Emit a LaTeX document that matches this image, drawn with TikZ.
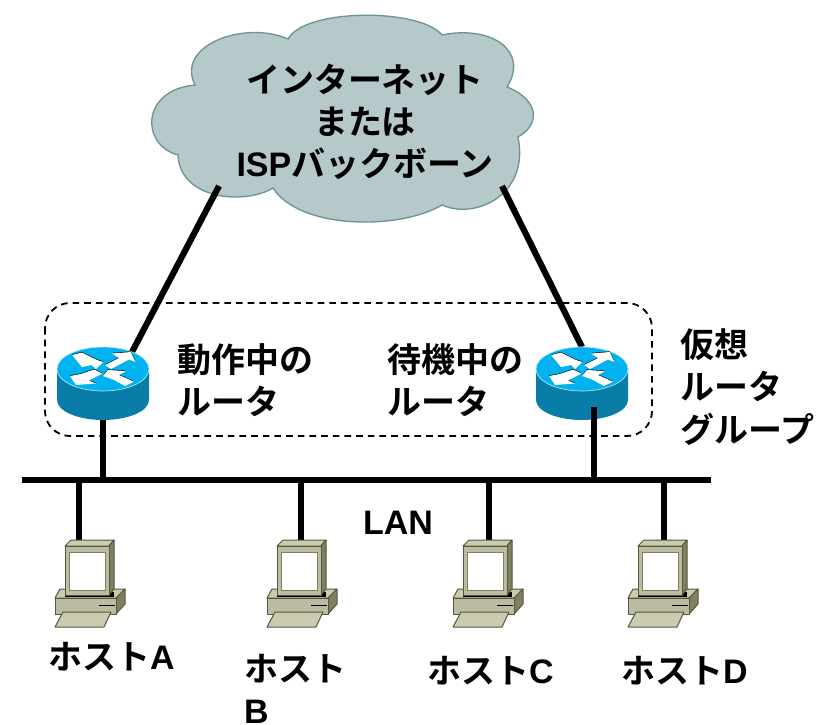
\documentclass[tikz,border=0pt]{standalone}
\usepackage{fontspec}
\setmainfont{Liberation Sans}
\newfontfamily\jpfont{Noto Sans CJK JP}[BoldFont={Noto Sans CJK JP Bold}]
\newfontfamily\latinfont{Liberation Sans}
\usetikzlibrary{calc}
\definecolor{cloudfill}{HTML}{B5C8CA}
\definecolor{cloudedge}{HTML}{6E9396}
\definecolor{routertop}{HTML}{00B3F0}
\definecolor{routerside}{HTML}{0A7CA8}
\definecolor{hostfront}{HTML}{BCBCA0}
\definecolor{hosttop}{HTML}{CBCBB2}
\definecolor{hostside}{HTML}{7F8060}
\definecolor{hostedge}{HTML}{55563F}
\tikzset{
	wire/.style={line width=1.85mm},
	jplabel/.style={inner sep=0pt, align=left, font=\fontsize{29}{36}\selectfont\bfseries\jpfont},
	hostpart/.style={draw=hostedge, line width=0.3mm, line join=round},
}
\def\lat#1{{\latinfont #1}}
\def\routericon(#1,#2){
	\begin{scope}[shift={(#1,#2)}]
		\fill[routerside] (-46,0) -- (-46,31) arc[start angle=180, end angle=0, x radius=46, y radius=20] -- (46,0) -- cycle;
		\draw[fill=routertop, draw=white!70!routertop, line width=0.2mm] (0,0) ellipse [x radius=46, y radius=22];
		\foreach \shadow/\tint in {0.6/black, 0/white}{
			\begin{scope}[shift={(0,-\shadow)}]
				\fill[\tint] (-31,-14) -- (-21,-16.5) -- (-6,-9) -- (0.5,-7) -- (-7,0) -- (-11,-4) -- (-21,-2) -- cycle;
				\fill[\tint] (2,-4) -- (16,-11) -- (9,-15.5) -- (27.7,-17) -- (32.5,-7) -- (26,-9.5) -- (8,0) -- cycle;
				\fill[\tint] (-9,0.5) -- (-0.5,4.5) -- (-14,11.5) -- (-7,14.5) -- (-27,16) -- (-33,7) -- (-22.3,5) -- cycle;
				\fill[\tint] (31,12.7) -- (16,6) -- (23,2) -- (5,1) -- (0,7) -- (10,10.5) -- (22,17) -- cycle;
			\end{scope}
		}
	\end{scope}
}
\def\hosticon(#1,#2){
	\begin{scope}[shift={(#1,#2)}]
		\draw[hostpart, fill=hosttop] (-34,58) -- (-29,49) -- (36,49) -- (27,58) -- cycle;
		\draw[hostpart, fill=hostside] (27,58) -- (36,49) -- (36,64) -- (27,74) -- cycle;
		\draw[hostpart, fill=hostfront] (-34,58) rectangle (27,74);
		\draw[line width=0.3mm] (10,65) -- (26,65);
		\draw[hostpart, fill=hosttop] (-34,87) -- (-26,72) -- (22,72) -- (15,87) -- cycle;
		\fill[black] (-24,52) rectangle (25,57);
		\draw[hostpart, fill=hosttop] (-24,6) -- (-18,0) -- (25,0) -- (20,6) -- cycle;
		\draw[hostpart, fill=hostside] (20,6) -- (25,0) -- (25,49) -- (20,55) -- cycle;
		\draw[hostpart, fill=hostfront] (-24,6) rectangle (20,55);
		\draw[draw=hostside, fill=white, line width=0.3mm] (-20,12) rectangle (16,50);
	\end{scope}
}

\begin{document}
\begin{tikzpicture}[x=0.03cm, y=-0.03cm]
		%%%%% START %%%%%
		\useasboundingbox (0,0) rectangle (829,725);
		
		\draw[line width=0.55mm, dash pattern=on 2mm off 1.5mm, rounded corners=0.75cm] (45,303) rectangle (652,436);
		
		\draw[fill=cloudfill, draw=cloudedge, line width=0.4mm] (288,39)
			.. controls (305,8) and (420,8) .. (442,35)
			.. controls (490,25) and (530,50) .. (507,87)
			.. controls (540,100) and (540,125) .. (518,137)
			.. controls (530,195) and (475,220) .. (442,205)
			.. controls (400,230) and (300,230) .. (273,188)
			.. controls (245,205) and (180,200) .. (178,155)
			.. controls (140.5,145) and (140.5,90) .. (195,85)
			.. controls (175,45) and (245,20) .. cycle;
		
		\coordinate (cloudl) at (219,186);
		\coordinate (cloudr) at (502,186);
		\coordinate (active) at (132,352);
		\coordinate (standby) at (582,347);
		\coordinate (activeb) at (103,415);
		\coordinate (standbyb) at (594,407);
		\coordinate (lanl) at (22,480);
		\coordinate (lanr) at (711,480);
		
		\draw[wire] (cloudl) -- (active);
		\draw[wire] (cloudr) -- (standby);
		\draw[wire] (activeb) -- (activeb |- lanl);
		
		\routericon(103,369)
		\routericon(582,369)
		
		\draw[wire] (standbyb) -- (standbyb |- lanl);
		\draw[wire] (lanl) -- (lanr);
		
		\foreach \wirex/\name in {79/a, 301/b, 489/c, 664/d}{
			\coordinate (drop\name) at (\wirex,541);
			\draw[wire] (drop\name) -- (drop\name |- lanl);
		}
		
		\hosticon(89,540)
		\hosticon(301,540)
		\hosticon(487,540)
		\hosticon(662,540)
		
		\node[jplabel, align=center] (cloudtext) at (365,122) {インターネット\\または\\\lat{ISP}バックボーン};
		\node[jplabel, anchor=west] (activetext) at (177,380) {動作中の\\ルータ};
		\node[jplabel, anchor=west] (standbytext) at (387,380) {待機中の\\ルータ};
		\node[jplabel, anchor=west] (grouptext) at (680,387) {仮想\\ルータ\\グループ};
		\node[jplabel] (lantext) at (398,523) {\lat{LAN}};
		\node[jplabel, anchor=west] (hostatext) at (48,657) {ホスト\lat{A}};
		\node[jplabel, anchor=west] (hostbtext) at (244,689) {ホスト\\\lat{B}};
		\node[jplabel, anchor=west] (hostctext) at (427,671) {ホスト\lat{C}};
		\node[jplabel, anchor=west] (hostdtext) at (621,671) {ホスト\lat{D}};
		
		%%%%% END %%%%%
	\end{tikzpicture}
\end{document}
